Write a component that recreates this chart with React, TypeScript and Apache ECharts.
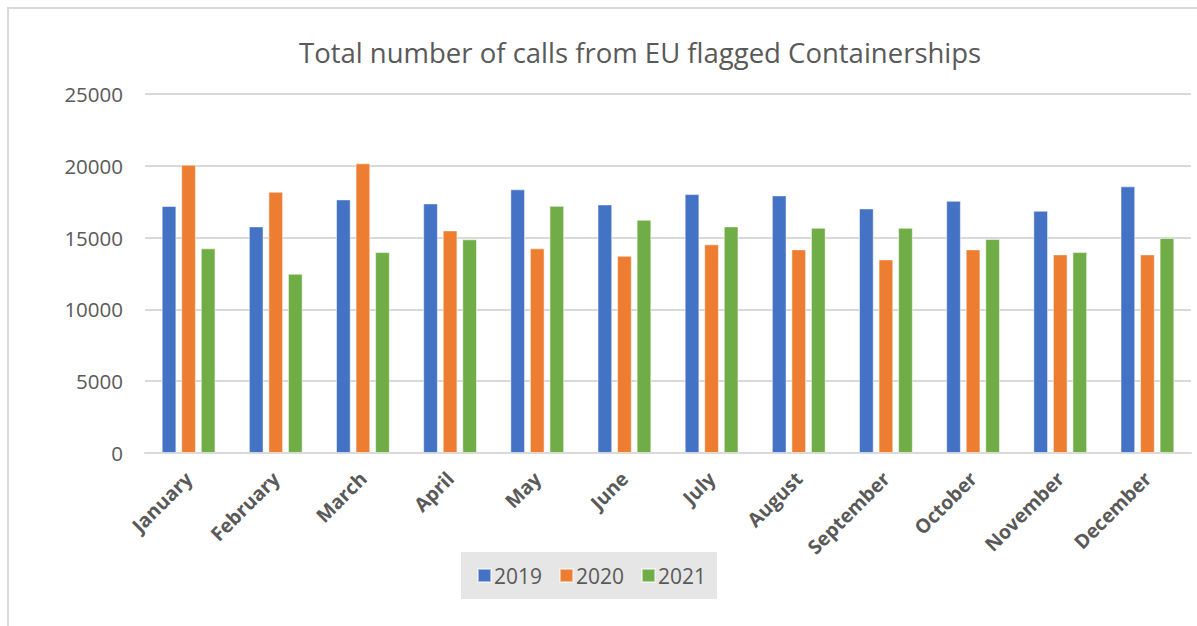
import React, { useEffect, useRef } from "react";
import * as echarts from "echarts";

const months = ["January", "February", "March", "April", "May", "June", "July", "August", "September", "October", "November", "December"];
const years = ["2019", "2020", "2021"];
const calls2019 = [17200, 15780, 17660, 17380, 18360, 17310, 18030, 17940, 17030, 17560, 16870, 18570];
const calls2020 = [20070, 18190, 20170, 15500, 14250, 13730, 14530, 14180, 13480, 14180, 13830, 13830];
const calls2021 = [14250, 12480, 13990, 14880, 17210, 16240, 15780, 15680, 15680, 14900, 13990, 14970];
const yTicks = { min: 0, max: 25000, interval: 5000 };
const colors = ["#4472c4", "#ed7d31", "#70ad47"];

export default function App() {
  const ref = useRef<HTMLDivElement>(null);
  useEffect(() => {
    document.body.style.margin = "0";
    const chart = echarts.init(ref.current!, undefined, { renderer: "svg" });
    const font = "'Open Sans', 'Noto Sans', sans-serif";
    const seriesData = [calls2019, calls2020, calls2021];
    chart.setOption({
      animation: false,
      backgroundColor: "#ffffff",
      color: colors,
      title: {
        text: "Total number of calls from EU flagged Containerships",
        left: 294,
        top: 33,
        textStyle: { fontFamily: font, fontSize: 27.5, fontWeight: "normal", color: "#595959" },
      },
      graphic: [
        {
          type: "rect",
          shape: { x: 8, y: 8, width: 1400, height: 800 },
          style: { fill: "none", stroke: "#d9d9d9", lineWidth: 2 },
          silent: true,
        },
      ],
      grid: { left: 145, right: 6, top: 94, bottom: 173, containLabel: false },
      legend: {
        data: years,
        left: 461,
        top: 552,
        orient: "horizontal",
        backgroundColor: "#e7e6e6",
        padding: [13, 11, 13, 16],
        itemGap: 17,
        itemWidth: 13,
        itemHeight: 13,
        icon: "rect",
        textStyle: { fontFamily: font, fontSize: 21, color: "#595959", padding: [0, 0, 0, -2] },
      },
      xAxis: {
        type: "category",
        data: months,
        axisLine: { lineStyle: { color: "#d9d9d9", width: 2 } },
        axisTick: { show: false },
        axisLabel: {
          rotate: 45,
          interval: 0,
          margin: 22,
          fontFamily: font,
          fontSize: 19.5,
          fontWeight: "bold",
          color: "#595959",
        },
      },
      yAxis: {
        type: "value",
        min: yTicks.min,
        max: yTicks.max,
        interval: yTicks.interval,
        axisLine: { show: false },
        axisTick: { show: false },
        splitLine: { lineStyle: { color: "#d9d9d9", width: 2 } },
        axisLabel: {
          margin: 22,
          fontFamily: font,
          fontSize: 20.5,
          color: "#595959",
          formatter: (v: number) => String(v),
        },
      },
      series: years.map((y, i) => ({
        name: y,
        type: "bar",
        data: seriesData[i],
        barWidth: 14.7,
        barGap: "33%",
        itemStyle: { color: colors[i], borderColor: "rgba(255,255,255,0.5)", borderWidth: 1 },
      })),
    });
    return () => chart.dispose();
  }, []);
  return <div ref={ref} style={{ width: 1197, height: 626 }} />;
}
